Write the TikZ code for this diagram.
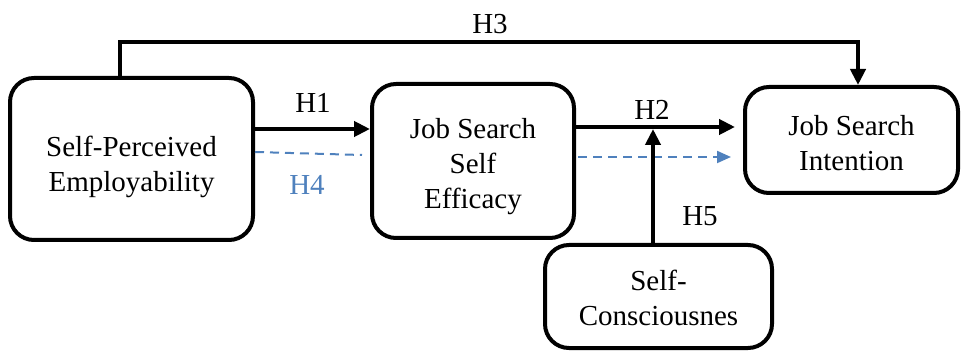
\documentclass[tikz,border=0pt]{standalone}
\usepackage{fontspec}
\setmainfont{Liberation Serif}
\usetikzlibrary{arrows.meta}
\definecolor{hblue}{RGB}{79,129,189}
\begin{document}
\begin{tikzpicture}[x=1pt,y=-1pt,
  box/.style={draw,line width=4pt,rounded corners=24pt,inner sep=0pt},
  txt/.style={align=center,inner sep=0pt,font=\fontsize{29}{35}\selectfont},
  lab/.style={font=\fontsize{29}{32}\selectfont,inner sep=0pt},
  arr/.style={line width=4pt,-{Triangle[length=16pt,width=15pt]}},
  darr/.style={hblue,line width=2pt,dash pattern=on 9pt off 6pt},
]
\useasboundingbox (0,0) rectangle (965,352);
\node[box,minimum width=243pt,minimum height=162pt] (b1) at (131.5,159) {};
\node[box,minimum width=202pt,minimum height=154pt] (b2) at (473,161) {};
\node[box,minimum width=213pt,minimum height=106pt] (b3) at (851.5,140) {};
\node[box,minimum width=227pt,minimum height=103pt] (b4) at (658.5,296.5) {};
\node[txt] (t1) at ([yshift=-8pt]b1.center) {Self-Perceived\\Employability};
\node[txt] (t2) at ([yshift=-6pt]b2.center) {Job Search\\Self\\Efficacy};
\node[txt] (t3) at ([yshift=-3pt]b3.center) {Job Search\\Intention};
\node[txt] (t4) at ([yshift=-1pt]b4.center) {Self-\\Consciousnes};
\coordinate (h3l) at (120,42);
\coordinate (h3r) at (858,42);
\coordinate (y1) at (0,129);
\coordinate (y2) at (0,127);
\coordinate (h5t) at (653,129);
\coordinate (d1a) at (255,152);
\coordinate (d1b) at (362,155);
\coordinate (y3) at (0,157);
% H3
\draw[arr,line join=miter] (h3l |- b1.north) -- (h3l) -- (h3r) -- (h3r |- b3.north);
\node[lab] (lh3) at (490,24) {H3};
% H1
\draw[arr] (y1 -| b1.east) -- (y1 -| b2.west);
\node[lab] (lh1) at (313,103) {H1};
% H4
\draw[darr] (d1a) -- (d1b);
\node[lab,text=hblue] (lh4) at (307,185) {H4};
% H2
\draw[arr,shorten >=8pt] (y2 -| b2.east) -- (y2 -| b3.west);
\node[lab] (lh2) at (652,110) {H2};
% dashed to b3
\draw[darr,-{Triangle[length=14pt,width=12pt]},shorten >=12pt] ([xshift=2pt]y3 -| b2.east) -- (y3 -| b3.west);
% H5
\draw[arr] (h5t |- b4.north) -- (h5t);
\node[lab] (lh5) at (700,216) {H5};
\end{tikzpicture}
\end{document}
